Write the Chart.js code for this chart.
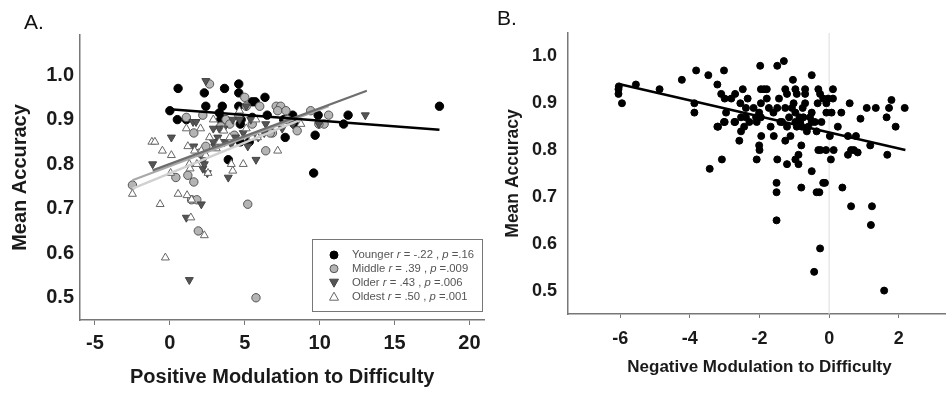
<!DOCTYPE html>
<html><head><meta charset="utf-8">
<script src="https://cdn.jsdelivr.net/npm/chart.js@4.4.0/dist/chart.umd.min.js"></script>
<style>
html,body{margin:0;padding:0;background:#fff;overflow:hidden;width:946px;height:393px;}
#ca{position:absolute;left:0;top:0;}
#cb{position:absolute;left:470px;top:0;}
</style></head><body>
<canvas id="ca" width="490" height="393"></canvas>
<canvas id="cb" width="486" height="393"></canvas>
<script>
const FONT = "'Liberation Sans', Arial, Helvetica, sans-serif";

// ---------- Panel A data ----------
const groupNames = ['Younger', 'Middle', 'Older', 'Oldest'];
const rValues = ['-.22', '.39', '.43', '.50'];
const pValues = ['.16', '.009', '.006', '.001'];

const youngerPts = [[0,0.92],[0.55,0.97],[0.5,0.90],[1.1,0.90],[2.3,0.96],[2.4,0.93],[3.65,0.97],[3.5,0.93],[3.3,0.915],[3.4,0.90],
  [4.6,0.98],[4.6,0.96],[4.6,0.93],[5.5,0.94],[5.7,0.94],[6.35,0.95],[4.7,0.89],[4.7,0.85],[5.3,0.85],[3.9,0.81],
  [6.5,0.91],[7.7,0.86],[8.2,0.91],[8.3,0.89],[9.9,0.91],[9.7,0.865],[9.6,0.78],[11.9,0.91],[11.6,0.89],[18.0,0.93],
  [5.5,0.905],[4.76,0.90],[7.6,0.90],[3.65,0.90]];
const middlePts = [[-2.5,0.753],[0.4,0.77],[1.2,0.775],[1.6,0.76],[1.45,0.72],[1.8,0.72],[1.9,0.65],[5.2,0.71],[5.75,0.50],[1.1,0.905],
  [1.6,0.87],[2.2,0.91],[2.65,0.98],[2.4,0.84],[3.75,0.90],[4.0,0.89],[5.0,0.95],[5.1,0.93],[6.0,0.93],[6.4,0.83],
  [6.85,0.87],[7.1,0.93],[7.4,0.93],[7.2,0.92],[7.75,0.92],[7.85,0.90],[8.5,0.875],[9.4,0.92],[10.6,0.91],[10.3,0.89],
  [9.95,0.89],[5.5,0.89],[4.6,0.91],[2.0,0.825],[3.4,0.885],[4.3,0.865],[6.7,0.87]];
const olderPts = [[2.4,0.987],[0.1,0.86],[-1.15,0.80],[1.55,0.895],[1.6,0.84],[2.2,0.79],[2.5,0.78],[2.1,0.71],[1.1,0.68],[1.3,0.54],
  [3.9,0.77],[5.75,0.81],[3.3,0.88],[2.9,0.88],[3.6,0.88],[4.2,0.90],[4.65,0.90],[5.1,0.93],[5.2,0.84],[5.4,0.90],
  [4.4,0.86],[3.2,0.86],[2.9,0.85],[3.65,0.85],[6.4,0.89],[6.3,0.87],[7.5,0.88],[8.2,0.89],[9.95,0.89],[13.05,0.91],
  [2.25,0.81],[1.75,0.895],[4.9,0.87],[5.9,0.86],[3.0,0.84],[4.1,0.845],[2.3,0.80]];
const oldestPts = [[-2.5,0.733],[-1.2,0.85],[-1.0,0.85],[-0.5,0.83],[0.1,0.82],[0.05,0.78],[-0.65,0.71],[-0.3,0.59],[0.55,0.733],[1.15,0.73],
  [1.45,0.72],[1.4,0.68],[2.3,0.64],[1.1,0.88],[1.2,0.84],[1.3,0.80],[1.35,0.79],[1.8,0.80],[2.05,0.88],[2.1,0.83],
  [2.55,0.78],[1.65,0.83],[2.65,0.86],[2.9,0.90],[3.1,0.835],[3.3,0.85],[4.1,0.80],[4.2,0.785],[4.9,0.80],[4.0,0.86],
  [5.1,0.88],[5.5,0.86],[5.85,0.86],[5.75,0.90],[7.2,0.83],[8.75,0.89],[4.65,0.92],[2.4,0.82],[3.6,0.875]];

// regression line end points
const youngerFit = [[0,0.923],[18,0.877]];
const middleFit  = [[-2.5,0.764],[10.6,0.93]];
const olderFit   = [[-1.15,0.786],[13.15,0.965]];
const oldestFit  = [[-2.5,0.745],[8.75,0.90]];

const xTicksA = [-5,0,5,10,15,20];
const yTicksA = [0.5,0.6,0.7,0.8,0.9,1.0];

// ---------- Panel B data ----------
const negModPts = [[-6.05,0.93],[-6.05,0.92],[-5.95,0.90],[-6.04,0.936],[-5.55,0.94],[-4.87,0.93],[-4.23,0.95],[-3.82,0.97],[-3.87,0.90],[-3.87,0.88],
  [-3.47,0.96],[-3.43,0.76],[-3.21,0.94],[-3.02,0.97],[-3.1,0.92],[-3.0,0.91],[-3.21,0.85],[-3.0,0.86],[-2.96,0.88],[-3.08,0.78],
  [-2.81,0.91],[-2.70,0.92],[-2.70,0.86],[-2.48,0.93],[-2.55,0.90],[-2.53,0.84],[-2.58,0.82],[-2.34,0.91],[-2.39,0.89],[-2.39,0.87],
  [-2.44,0.85],[-2.29,0.86],[-2.17,0.89],[-2.1,0.87],[-2.08,0.86],[-1.98,0.98],[-1.96,0.93],[-1.87,0.93],[-1.79,0.93],[-1.96,0.90],
  [-2.01,0.88],[-1.96,0.87],[-1.95,0.83],[-2.01,0.81],[-2.0,0.80],[-2.08,0.78],[-1.79,0.91],[-1.68,0.85],[-1.73,0.89],[-1.59,0.83],
  [-1.49,0.98],[-1.30,0.99],[-1.44,0.91],[-1.49,0.89],[-1.35,0.86],[-1.49,0.78],[-1.51,0.73],[-1.51,0.71],[-1.51,0.65],[-1.26,0.93],
  [-1.21,0.92],[-1.26,0.89],[-1.21,0.85],[-1.26,0.82],[-1.21,0.77],[-1.11,0.83],[-1.07,0.89],[-1.04,0.95],[-0.97,0.93],[-0.93,0.92],
  [-1.02,0.90],[-0.97,0.88],[-0.97,0.86],[-0.93,0.85],[-0.97,0.78],[-0.88,0.77],[-0.88,0.79],[-0.80,0.81],[-0.80,0.72],[-0.69,0.93],
  [-0.69,0.92],[-0.76,0.89],[-0.74,0.87],[-0.83,0.86],[-0.78,0.85],[-0.69,0.90],[-0.64,0.84],[-0.50,0.96],[-0.55,0.87],[-0.50,0.86],
  [-0.50,0.88],[-0.50,0.755],[-0.41,0.86],[-0.36,0.84],[-0.33,0.90],[-0.31,0.93],[-0.26,0.92],[-0.36,0.71],[-0.28,0.71],[-0.43,0.54],
  [-0.26,0.59],[-0.31,0.80],[-0.25,0.80],[-0.17,0.73],[-0.12,0.73],[-0.22,0.86],[-0.17,0.91],[-0.08,0.90],[-0.03,0.91],[-0.08,0.88],
  [0.07,0.88],[0.11,0.93],[0.11,0.91],[-0.09,0.80],[0.02,0.83],[0.05,0.78],[0.13,0.80],[0.25,0.85],[0.35,0.88],[0.38,0.72],
  [0.59,0.90],[0.54,0.83],[0.54,0.79],[0.63,0.80],[0.63,0.68],[0.71,0.80],[0.77,0.83],[0.82,0.795],[0.90,0.867],[1.08,0.89],
  [1.18,0.81],[1.23,0.68],[1.20,0.64],[1.34,0.89],[1.58,0.50],[1.65,0.87],[1.67,0.79],[1.72,0.89],[1.79,0.907],[1.91,0.85],
  [2.17,0.89],[-3.19,0.85],[-3.02,0.86],[-2.72,0.86],[-2.53,0.87],[-1.15,0.87],[-0.6,0.85],[-1.4,0.86],[-0.85,0.87],[-1.6,0.88]];
const negModFit = [[-6.04,0.941],[2.19,0.80]];
const zeroLine = [[0,0.45],[0,1.05]];
const xTicksB = [-6,-4,-2,0,2];
const yTicksB = [0.5,0.6,0.7,0.8,0.9,1.0];

const toXY = arr => arr.map(p => ({x:p[0], y:p[1]}));

function scatterSet(pts, opts) {
  return Object.assign({data: toXY(pts), showLine:false, pointBorderWidth:1}, opts);
}
function lineSet(pts, color, width, order) {
  return {data: toXY(pts), showLine:true, borderColor:color, borderWidth:width, pointRadius:0, order:order, fill:false};
}

function drawLetter(ctx, txt, x, y) {
  ctx.save();
  ctx.font = "21px " + FONT;
  ctx.fillStyle = '#111';
  ctx.textBaseline = 'alphabetic';
  ctx.fillText(txt, x, y);
  ctx.restore();
}

function legendMarker(ctx, kind, x, y) {
  ctx.save();
  ctx.lineWidth = 1;
  ctx.beginPath();
  if (kind === 0) { ctx.arc(x, y, 4, 0, Math.PI*2); ctx.fillStyle='#000'; ctx.strokeStyle='#000'; }
  else if (kind === 1) { ctx.arc(x, y, 4, 0, Math.PI*2); ctx.fillStyle='#b4b4b4'; ctx.strokeStyle='#555'; }
  else if (kind === 2) { ctx.moveTo(x-4.5, y-3.5); ctx.lineTo(x+4.5, y-3.5); ctx.lineTo(x, y+4.5); ctx.closePath(); ctx.fillStyle='#555'; ctx.strokeStyle='#444'; }
  else { ctx.moveTo(x-4.5, y+3.5); ctx.lineTo(x+4.5, y+3.5); ctx.lineTo(x, y-4.5); ctx.closePath(); ctx.fillStyle='#fff'; ctx.strokeStyle='#666'; }
  ctx.fill(); ctx.stroke();
  ctx.restore();
}

const decorA = {
  id: 'decorA',
  afterDraw(chart) {
    const ctx = chart.ctx;
    drawLetter(ctx, 'A.', 24, 29);
    ctx.save();
    ctx.strokeStyle = '#777';
    ctx.lineWidth = 1;
    ctx.strokeRect(312.5, 239.5, 170, 72);
    const rowsY = [255, 268.7, 282.7, 296.7];
    ctx.fillStyle = '#555';
    ctx.textBaseline = 'middle';
    for (let i = 0; i < 4; i++) {
      legendMarker(ctx, i, 334, rowsY[i]);
      let x = 352;
      const segs = [[groupNames[i] + ' ', false], ['r', true], [' = ' + rValues[i] + ' , ', false], ['p', true], [' =' + pValues[i], false]];
      for (const [t, it] of segs) {
        ctx.font = (it ? 'italic ' : '') + '11.3px ' + FONT;
        ctx.fillStyle = '#555';
        ctx.fillText(t, x, rowsY[i]);
        x += ctx.measureText(t).width;
      }
    }
    ctx.restore();
  }
};
const decorB = {
  id: 'decorB',
  afterDraw(chart) { drawLetter(chart.ctx, 'B.', 27, 25); }
};

function axisCommon(ticksArr, fmt, fontSize, pad) {
  return {
    type: 'linear',
    afterBuildTicks: s => { s.ticks = ticksArr.map(v => ({value: v})); },
    ticks: {font:{family:FONT, size:fontSize, weight:'bold'}, color:'#1a1a1a', padding:pad, maxRotation:0, autoSkip:false, callback: fmt}
  };
}

Chart.defaults.font.family = FONT;

new Chart(document.getElementById('ca'), {
  type: 'scatter',
  data: { datasets: [
    lineSet(youngerFit, '#000', 2.5, 0),
    lineSet(olderFit, '#6e6e6e', 2.2, 1),
    lineSet(middleFit, '#a8a8a8', 2.2, 2),
    lineSet(oldestFit, '#d0d0d0', 2.2, 3),
    scatterSet(oldestPts, {pointStyle:'triangle', pointRadius:4.6, backgroundColor:'#fff', borderColor:'#666', order:4}),
    scatterSet(olderPts, {pointStyle:'triangle', rotation:180, pointRadius:4.6, backgroundColor:'#555', borderColor:'#444', order:5}),
    scatterSet(middlePts, {pointStyle:'circle', pointRadius:4.2, backgroundColor:'#b4b4b4', borderColor:'#555', order:6}),
    scatterSet(youngerPts, {pointStyle:'circle', pointRadius:4.2, backgroundColor:'#000', borderColor:'#000', order:7})
  ]},
  options: {
    responsive:false, animation:false, events:[],
    layout:{padding:{left:0, top:35, right:3, bottom:0}},
    plugins:{legend:{display:false}, tooltip:{enabled:false}},
    scales:{
      x: Object.assign(axisCommon(xTicksA, v => String(v), 20, 6), {
        position:'bottom', min:-6, max:21,
        afterFit: s => { s.height = 73; },
        grid:{display:true, drawOnChartArea:false, drawTicks:true, tickLength:5, color:'#777', lineWidth:1},
        border:{display:true, color:'#777', width:1.5},
        title:{display:true, text:'Positive Modulation to Difficulty', color:'#1a1a1a', font:{family:FONT, size:20, weight:'bold'}, padding:{top:0, bottom:4}}
      }),
      y: Object.assign(axisCommon(yTicksA, v => v.toFixed(1), 20, 6), {
        position:'left', min:0.45, max:1.09,
        afterFit: s => { s.width = 80; },
        grid:{display:true, drawOnChartArea:false, drawTicks:false},
        border:{display:true, color:'#777', width:1.5},
        title:{display:true, text:'Mean Accuracy', color:'#1a1a1a', font:{family:FONT, size:20, weight:'bold'}, padding:{top:8, bottom:0}}
      })
    }
  },
  plugins:[decorA]
});

new Chart(document.getElementById('cb'), {
  type: 'scatter',
  data: { datasets: [
    lineSet(negModFit, '#000', 2.5, 0),
    scatterSet(negModPts, {pointStyle:'circle', pointRadius:3.5, backgroundColor:'#000', borderColor:'#000', order:1}),
    lineSet(zeroLine, '#dddddd', 1, 2)
  ]},
  options: {
    responsive:false, animation:false, events:[],
    layout:{padding:{left:0, top:33, right:0, bottom:0}},
    plugins:{legend:{display:false}, tooltip:{enabled:false}},
    scales:{
      x: Object.assign(axisCommon(xTicksB, v => String(v), 18, 10), {
        position:'bottom', min:-7.5, max:3.5,
        afterFit: s => { s.height = 79; },
        grid:{display:true, drawOnChartArea:false, drawTicks:true, tickLength:4, color:'#777', lineWidth:1},
        border:{display:true, color:'#777', width:1.5},
        title:{display:true, text:'Negative Modulation to Difficulty', color:'#1a1a1a', font:{family:FONT, size:17, weight:'bold'}, padding:{top:0, bottom:15}}
      }),
      y: Object.assign(axisCommon(yTicksB, v => v.toFixed(1), 18, 11), {
        position:'left', min:0.45, max:1.05,
        afterFit: s => { s.width = 98; },
        grid:{display:true, drawOnChartArea:false, drawTicks:false},
        border:{display:true, color:'#777', width:1.5},
        title:{display:true, text:'Mean Accuracy', color:'#1a1a1a', font:{family:FONT, size:17.5, weight:'bold'}, padding:{top:33, bottom:0}}
      })
    }
  },
  plugins:[decorB]
});
</script>
</body></html>
